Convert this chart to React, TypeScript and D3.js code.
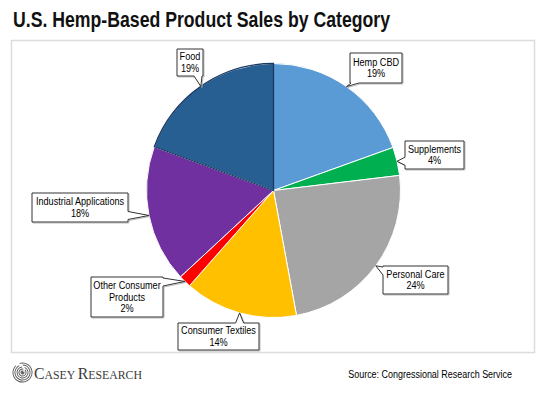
import React, { useRef, useEffect } from 'react';
import * as d3 from 'd3';

const categories = ['Hemp CBD', 'Supplements', 'Personal Care', 'Consumer Textiles', 'Other Consumer Products', 'Industrial Applications', 'Food'];
const shares = [19.5, 3.6, 24.0, 14.4, 1.6, 17.5, 19.4];
const shareLabels = ['19%', '4%', '24%', '14%', '2%', '18%', '19%'];
const labelLines = [['Hemp CBD'], ['Supplements'], ['Personal Care'], ['Consumer Textiles'], ['Other Consumer', 'Products'], ['Industrial Applications'], ['Food']];
const colors = ['#5b9bd5', '#00b050', '#a5a5a5', '#ffc000', '#ff0000', '#7030a0', '#275f92'];

// callout boxes: [x0, y0, x1, y1, side the tail leaves from]
const boxes: [number, number, number, number, string][] = [
  [350, 53, 402, 83, 'bottom'],
  [405, 141, 464, 169, 'left'],
  [383, 266, 448, 294, 'left'],
  [178, 323, 259, 350, 'top'],
  [91, 277, 163, 317, 'right'],
  [32, 193, 128, 222, 'right'],
  [177, 49, 203, 76, 'bottom'],
];

const W = 550;
const H = 394;
const cx = 273.5;
const cy = 190.5;
const R = 127;

function callout(b: [number, number, number, number, string], tx: number, ty: number) {
  const [x0, y0, x1, y1, side] = b;
  const hw = 4;
  const clamp = (v: number, a: number, c: number) => Math.max(a + hw + 1, Math.min(c - hw - 1, v));
  if (side === 'bottom') {
    const m = clamp(tx, x0, x1);
    return `M${x0},${y0}H${x1}V${y1}H${m + hw}L${tx},${ty}L${m - hw},${y1}H${x0}Z`;
  }
  if (side === 'top') {
    const m = clamp(tx, x0, x1);
    return `M${x0},${y0}H${m - hw}L${tx},${ty}L${m + hw},${y0}H${x1}V${y1}H${x0}Z`;
  }
  if (side === 'left') {
    const m = clamp(ty, y0, y1);
    return `M${x0},${y0}H${x1}V${y1}H${x0}V${m + hw}L${tx},${ty}L${x0},${m - hw}Z`;
  }
  const m = clamp(ty, y0, y1);
  return `M${x0},${y0}H${x1}V${m - hw}L${tx},${ty}L${x1},${m + hw}V${y1}H${x0}Z`;
}

const App: React.FC = () => {
  const svgRef = useRef<SVGSVGElement>(null);

  useEffect(() => {
    const svg = d3.select(svgRef.current);
    svg.selectAll('*').remove();

    svg.append('rect').attr('width', W).attr('height', H).attr('fill', '#fff');

    // title
    svg.append('text')
      .attr('x', 13).attr('y', 27)
      .attr('font-family', 'Liberation Sans, Arial, sans-serif')
      .attr('font-weight', 'bold')
      .attr('font-size', 22)
      .attr('fill', '#111')
      .attr('textLength', 377)
      .attr('lengthAdjust', 'spacingAndGlyphs')
      .text('U.S. Hemp-Based Product Sales by Category');

    // frame
    svg.append('rect')
      .attr('x', 11.5).attr('y', 40.5).attr('width', 523).attr('height', 312)
      .attr('fill', 'none').attr('stroke', '#dcdcdc').attr('stroke-width', 1.5);

    const pie = d3.pie<number>().sort(null).value(d => d);
    const arcs = pie(shares);
    const arc = d3.arc<d3.PieArcDatum<number>>().innerRadius(0).outerRadius(R);

    const g = svg.append('g').attr('transform', `translate(${cx},${cy})`);
    g.selectAll('path.slice')
      .data(arcs)
      .join('path')
      .attr('class', 'slice')
      .attr('d', arc)
      .attr('fill', (_, i) => colors[i])
      .attr('stroke', '#fff')
      .attr('stroke-width', 1);
    // food slice outline
    g.append('path')
      .attr('d', arc(arcs[6])!)
      .attr('fill', 'none')
      .attr('stroke', '#1b3a63')
      .attr('stroke-width', 1.3);

    // callouts
    const lab = svg.append('g').attr('font-family', 'Liberation Sans, Arial, sans-serif');
    arcs.forEach((a, i) => {
      const ang = (a.startAngle + a.endAngle) / 2;
      const tx = cx + Math.sin(ang) * R;
      const ty = cy - Math.cos(ang) * R;
      const b = boxes[i];
      const d = callout(b, tx, ty);
      lab.append('path').attr('d', d).attr('transform', 'translate(1,1)')
        .attr('fill', 'none').attr('stroke', '#bbb').attr('stroke-width', 1);
      lab.append('path').attr('d', d).attr('fill', '#fff').attr('stroke', '#333').attr('stroke-width', 1);
      const lines = [...labelLines[i], shareLabels[i]];
      const mx = (b[0] + b[2]) / 2;
      const lh = 11.8;
      const top = (b[1] + b[3]) / 2 - (lines.length * lh) / 2;
      lines.forEach((t, k) => {
        lab.append('text')
          .attr('transform', `translate(${mx},${top + lh * (k + 1) - 2.4}) scale(0.83,1)`)
          .attr('text-anchor', 'middle')
          .attr('font-size', 11)
          .attr('fill', '#000')
          .text(t);
      });
    });

    // footer: logo
    const logo = svg.append('g').attr('transform', 'translate(22.5,372.5)');
    [10, 8, 6, 4, 2].forEach((r, k) => {
      logo.append('path')
        .attr('d', d3.arc()({ innerRadius: r - 0.9, outerRadius: r, startAngle: -Math.PI * 0.1 + k * 0.35, endAngle: Math.PI * 1.75 + k * 0.35 }) as string)
        .attr('fill', '#555');
    });
    logo.append('circle').attr('r', 1.2).attr('fill', '#555');

    const lt = svg.append('text')
      .attr('x', 34).attr('y', 378.5)
      .attr('font-family', 'Liberation Serif, Times New Roman, serif')
      .attr('fill', '#3a3a3a')
      .attr('textLength', 108)
      .attr('lengthAdjust', 'spacingAndGlyphs');
    lt.append('tspan').attr('font-size', 16).text('C');
    lt.append('tspan').attr('font-size', 12).text('ASEY ');
    lt.append('tspan').attr('font-size', 16).text('R');
    lt.append('tspan').attr('font-size', 12).text('ESEARCH');

    svg.append('text')
      .attr('transform', 'translate(512,377.5) scale(0.78,1)')
      .attr('text-anchor', 'end')
      .attr('font-family', 'Liberation Sans, Arial, sans-serif')
      .attr('font-size', 11.5)
      .attr('fill', '#000')
      .text('Source: Congressional Research Service');
  }, []);

  return <svg ref={svgRef} width={W} height={H} style={{ position: 'absolute', left: 0, top: 0 }} />;
};

export default App;
